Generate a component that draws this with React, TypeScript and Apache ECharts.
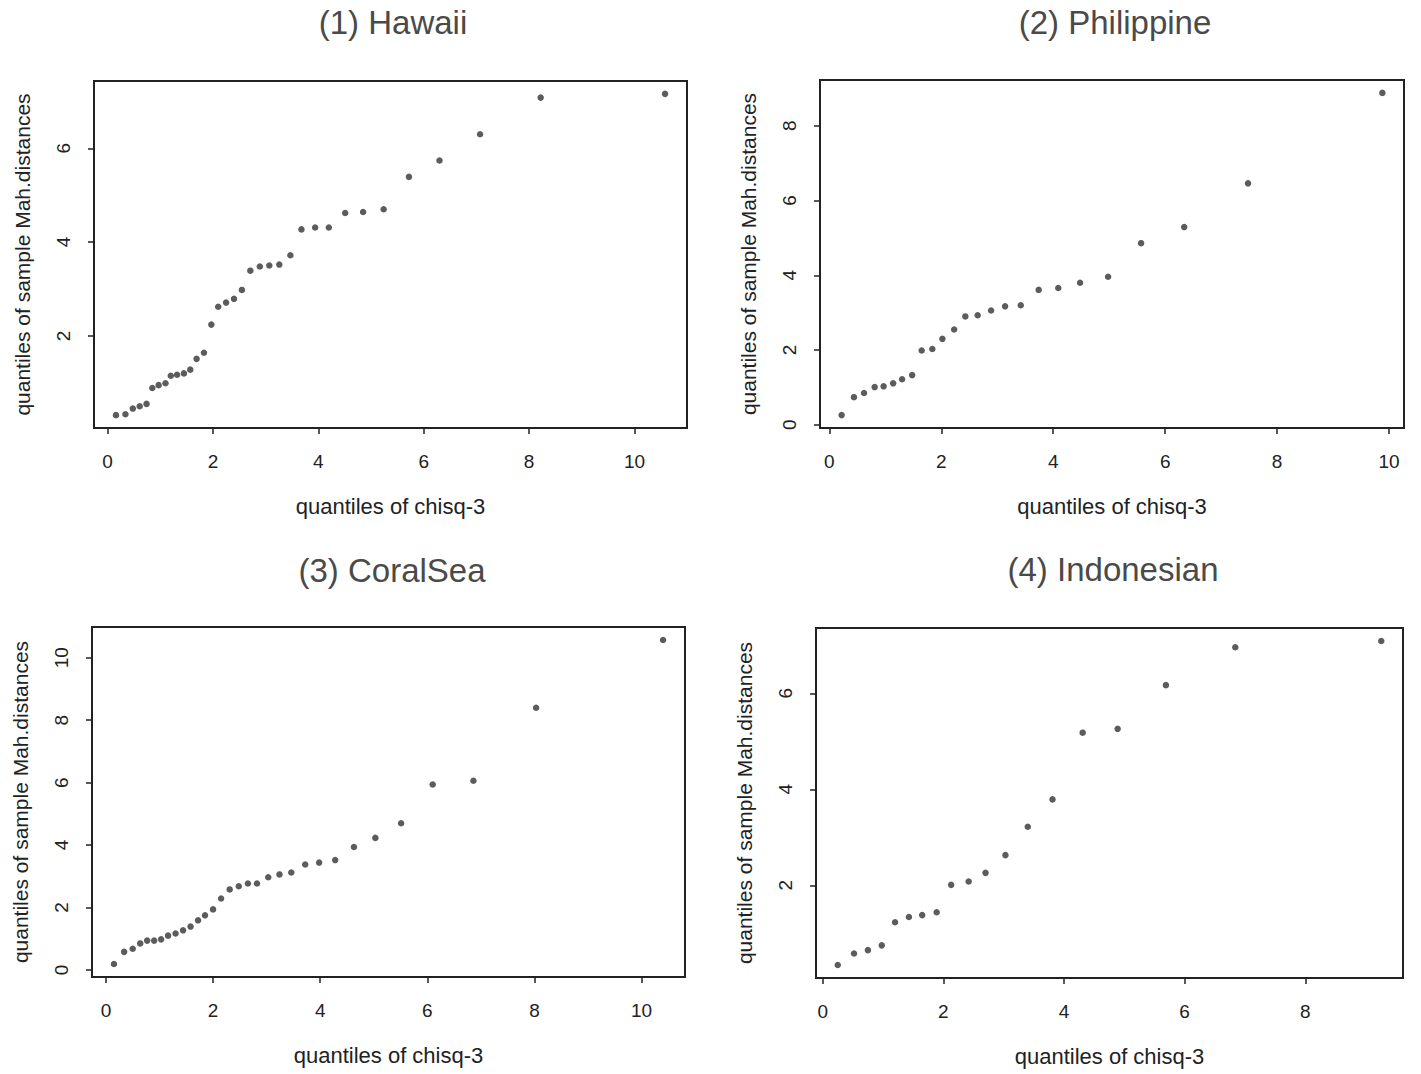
import React, { useEffect, useRef } from "react";
import * as echarts from "echarts";

// ---- data ----
const panelTitles = ["(1) Hawaii", "(2) Philippine", "(3) CoralSea", "(4) Indonesian"];

const hawaiiX = [0.16, 0.34, 0.48, 0.61, 0.74, 0.85, 0.97, 1.10, 1.20, 1.32, 1.45, 1.57, 1.69, 1.83, 1.97, 2.10, 2.25, 2.40, 2.55, 2.71, 2.89, 3.07, 3.26, 3.47, 3.68, 3.94, 4.20, 4.51, 4.85, 5.24, 5.72, 6.30, 7.07, 8.22, 10.58];
const hawaiiY = [0.31, 0.33, 0.45, 0.50, 0.55, 0.89, 0.95, 0.99, 1.15, 1.17, 1.20, 1.28, 1.51, 1.64, 2.24, 2.62, 2.71, 2.79, 2.98, 3.39, 3.48, 3.50, 3.52, 3.72, 4.27, 4.31, 4.31, 4.62, 4.64, 4.70, 5.39, 5.74, 6.30, 7.08, 7.16];

const philippineX = [0.22, 0.44, 0.62, 0.81, 0.97, 1.14, 1.30, 1.48, 1.65, 1.84, 2.02, 2.23, 2.43, 2.65, 2.89, 3.14, 3.42, 3.74, 4.09, 4.48, 4.98, 5.57, 6.34, 7.48, 9.88];
const philippineY = [0.26, 0.74, 0.85, 1.01, 1.03, 1.11, 1.22, 1.33, 1.99, 2.03, 2.30, 2.55, 2.90, 2.93, 3.06, 3.17, 3.20, 3.61, 3.66, 3.80, 3.96, 4.86, 5.29, 6.46, 8.88];

const coralSeaX = [0.15, 0.34, 0.50, 0.64, 0.77, 0.90, 1.03, 1.16, 1.30, 1.44, 1.58, 1.72, 1.85, 2.00, 2.15, 2.31, 2.48, 2.65, 2.82, 3.03, 3.24, 3.46, 3.72, 3.98, 4.28, 4.63, 5.03, 5.51, 6.10, 6.86, 8.03, 10.40];
const coralSeaY = [0.19, 0.58, 0.68, 0.85, 0.94, 0.94, 0.98, 1.10, 1.17, 1.27, 1.39, 1.59, 1.75, 1.94, 2.29, 2.58, 2.68, 2.77, 2.77, 2.97, 3.06, 3.12, 3.38, 3.44, 3.52, 3.94, 4.23, 4.70, 5.94, 6.06, 8.40, 10.57];

const indonesianX = [0.25, 0.52, 0.75, 0.98, 1.20, 1.43, 1.65, 1.89, 2.13, 2.42, 2.70, 3.03, 3.40, 3.81, 4.31, 4.89, 5.69, 6.84, 9.26];
const indonesianY = [0.34, 0.58, 0.65, 0.75, 1.23, 1.34, 1.38, 1.44, 2.01, 2.08, 2.26, 2.63, 3.22, 3.79, 5.18, 5.26, 6.17, 6.96, 7.09];

const xTicks1 = [0, 2, 4, 6, 8, 10];
const xTicks4 = [0, 2, 4, 6, 8];
const yTicks1 = [2, 4, 6];
const yTicks2 = [0, 2, 4, 6, 8];
const yTicks3 = [0, 2, 4, 6, 8, 10];
const yTicks4 = [2, 4, 6];

const xAxisName = "quantiles of chisq-3";
const yAxisName = "quantiles of sample Mah.distances";

// ---- layout ----
const FONT = "'Liberation Sans', Arial, Helvetica, sans-serif";

const panels = [
  { title: panelTitles[0], xs: hawaiiX, ys: hawaiiY, xt: xTicks1, yt: yTicks1,
    grid: { left: 94, top: 81, width: 593, height: 347 }, tx: 393, ty: 22 },
  { title: panelTitles[1], xs: philippineX, ys: philippineY, xt: xTicks1, yt: yTicks2,
    grid: { left: 820, top: 80, width: 584, height: 348 }, tx: 1115, ty: 22 },
  { title: panelTitles[2], xs: coralSeaX, ys: coralSeaY, xt: xTicks1, yt: yTicks3,
    grid: { left: 92, top: 627, width: 593, height: 350 }, tx: 392, ty: 570 },
  { title: panelTitles[3], xs: indonesianX, ys: indonesianY, xt: xTicks4, yt: yTicks4,
    grid: { left: 816, top: 628, width: 587, height: 350 }, tx: 1113, ty: 569 },
];

// R-style axis limits: data range extended by 4% on each side
function rLimits(arr: number[]): [number, number] {
  const mn = Math.min(...arr);
  const mx = Math.max(...arr);
  const pad = 0.04 * (mx - mn);
  return [mn - pad, mx + pad];
}

export default function App() {
  const ref = useRef<HTMLDivElement>(null);

  useEffect(() => {
    if (!ref.current) return;
    const chart = echarts.init(ref.current, undefined, { renderer: "svg" });

    const grids = panels.map((p) => ({
      ...p.grid,
      show: true,
      borderColor: "#222",
      borderWidth: 2,
      backgroundColor: "#fff",
      containLabel: false,
    }));

    const tickStyle = { color: "#222", width: 1.5 };

    const xAxes = panels.map((p, i) => {
      const [mn, mx] = rLimits(p.xs);
      return {
        type: "value",
        gridIndex: i,
        min: mn,
        max: mx,
        axisLine: { show: false, onZero: false },
        axisTick: { show: true, inside: false, length: 6, lineStyle: tickStyle, customValues: p.xt },
        axisLabel: {
          customValues: p.xt,
          fontSize: 19,
          fontFamily: FONT,
          color: "#222",
          margin: 24,
          formatter: (v: number) => String(v),
        },
        splitLine: { show: false },
        name: xAxisName,
        nameLocation: "middle",
        nameGap: 67,
        nameTextStyle: { fontSize: 22, fontFamily: FONT, color: "#222" },
      };
    });

    const yAxes = panels.map((p, i) => {
      const [mn, mx] = rLimits(p.ys);
      return {
        type: "value",
        gridIndex: i,
        min: mn,
        max: mx,
        axisLine: { show: false, onZero: false },
        axisTick: { show: true, inside: false, length: 6, lineStyle: tickStyle, customValues: p.yt },
        axisLabel: {
          customValues: p.yt,
          rotate: 90,
          fontSize: 19,
          fontFamily: FONT,
          color: "#222",
          margin: 21,
          formatter: (v: number) => String(v),
        },
        splitLine: { show: false },
        name: yAxisName,
        nameLocation: "middle",
        nameGap: 61,
        nameTextStyle: { fontSize: 21, fontFamily: FONT, color: "#222" },
      };
    });

    const series = panels.map((p, i) => ({
      type: "scatter",
      xAxisIndex: i,
      yAxisIndex: i,
      symbol: "circle",
      symbolSize: 6.5,
      itemStyle: { color: "#333" },
      data: p.xs.map((x, k) => [x, p.ys[k]]),
    }));

    const graphics = panels.map((p) => ({
      type: "text",
      x: p.tx,
      y: p.ty,
      style: {
        text: p.title,
        font: `33px ${FONT}`,
        fill: "#4a4a4a",
        textAlign: "center",
        textVerticalAlign: "middle",
      },
    }));

    chart.setOption({
      animation: false,
      backgroundColor: "#fff",
      grid: grids,
      xAxis: xAxes,
      yAxis: yAxes,
      series,
      graphic: graphics,
    } as any);

    return () => chart.dispose();
  }, []);

  return (
    <div
      ref={ref}
      style={{ position: "absolute", left: 0, top: 0, width: 1421, height: 1074, background: "#fff" }}
    />
  );
}
